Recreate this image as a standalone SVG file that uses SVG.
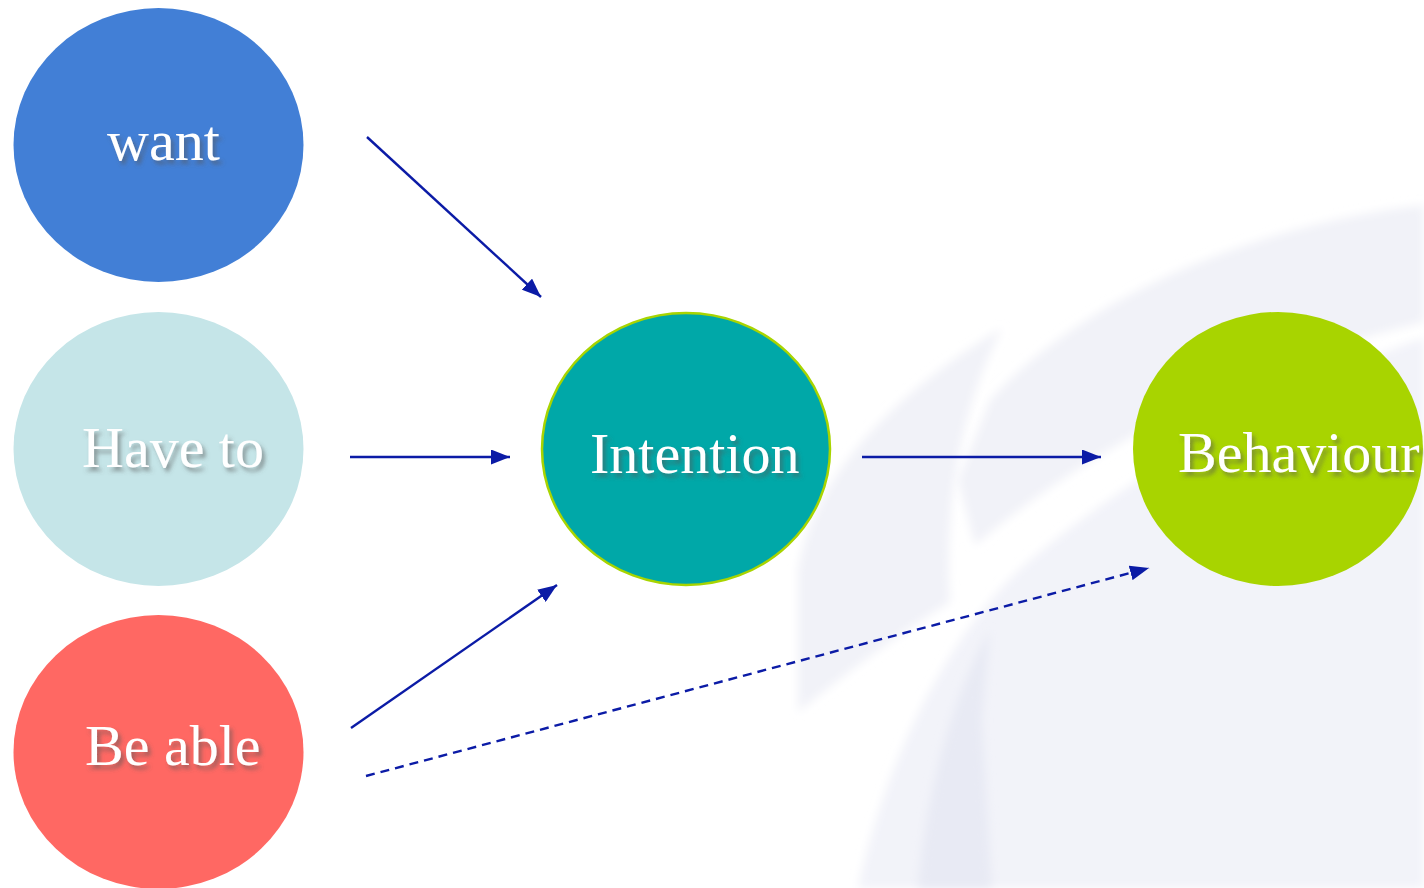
<svg xmlns="http://www.w3.org/2000/svg" width="1424" height="888" viewBox="0 0 1424 888">
<style>
.lbl{font-family:"Liberation Serif","Times New Roman",serif;font-size:58px;fill:#ffffff;filter:url(#sh)}
.conn{stroke:#0B1BA6;stroke-width:2.4;fill:none}
.bg{stroke:none;filter:url(#soft)}
</style>
<defs>
<filter id="sh" x="-20%" y="-30%" width="140%" height="160%">
<feDropShadow dx="3" dy="4" stdDeviation="2" flood-color="#555555" flood-opacity="0.55"/>
</filter>
<filter id="soft" x="-10%" y="-10%" width="120%" height="120%">
<feGaussianBlur stdDeviation="5"/>
</filter>
<marker id="ah" markerUnits="userSpaceOnUse" markerWidth="19" markerHeight="15" viewBox="0 0 19 15" refX="19" refY="7.5" orient="auto">
<path d="M0,0 L19,7.5 L0,15 z" fill="#0B1BA6"/>
</marker>
</defs>
<rect width="1424" height="888" fill="#ffffff"/>
<g id="background">
<path class="bg" d="M1002 328 C900 390 815 470 798 570 L798 712 C850 670 905 630 950 602 C945 520 955 420 1002 328 Z" fill="#F1F2F8"/>
<path class="bg" d="M1424 205 C1250 225 1080 300 990 400 L958 480 L975 545 C1100 440 1260 360 1424 322 Z" fill="#F1F2F8"/>
<path class="bg" d="M858 888 C890 740 960 620 1030 560 C1150 460 1300 380 1424 338 L1424 888 Z" fill="#F2F3F9"/>
<path class="bg" d="M918 888 C925 800 950 700 990 630 L982 720 L992 888 Z" fill="#E8EAF4"/>
</g>
<g id="connectors">
<line class="conn" x1="367" y1="137" x2="541" y2="297" marker-end="url(#ah)"/>
<line class="conn" x1="350" y1="457" x2="510" y2="457" marker-end="url(#ah)"/>
<line class="conn" x1="351" y1="728" x2="557" y2="585" marker-end="url(#ah)"/>
<line class="conn" x1="862" y1="457" x2="1101" y2="457" marker-end="url(#ah)"/>
<line class="conn" x1="366" y1="776" x2="1149" y2="568" stroke-dasharray="9,6" marker-end="url(#ah)"/>
</g>
<g id="want">
<ellipse cx="158.5" cy="145" rx="145" ry="137" fill="#427FD6"/>
<text class="lbl" x="107" y="160">want</text>
</g>
<g id="have-to">
<ellipse cx="158.5" cy="449" rx="145" ry="137" fill="#C5E5E8"/>
<text class="lbl" x="82" y="467">Have to</text>
</g>
<g id="be-able">
<ellipse cx="158.5" cy="752" rx="145" ry="137" fill="#FF6863"/>
<text class="lbl" x="85" y="765">Be able</text>
</g>
<g id="intention">
<ellipse cx="686" cy="449" rx="144" ry="136" fill="#00A8A8" stroke="#A8D400" stroke-width="2.5"/>
<text class="lbl" x="590" y="473">Intention</text>
</g>
<g id="behaviour">
<ellipse cx="1278" cy="449" rx="145" ry="137" fill="#A8D400"/>
<text class="lbl" x="1178" y="472">Behaviour</text>
</g>
</svg>
